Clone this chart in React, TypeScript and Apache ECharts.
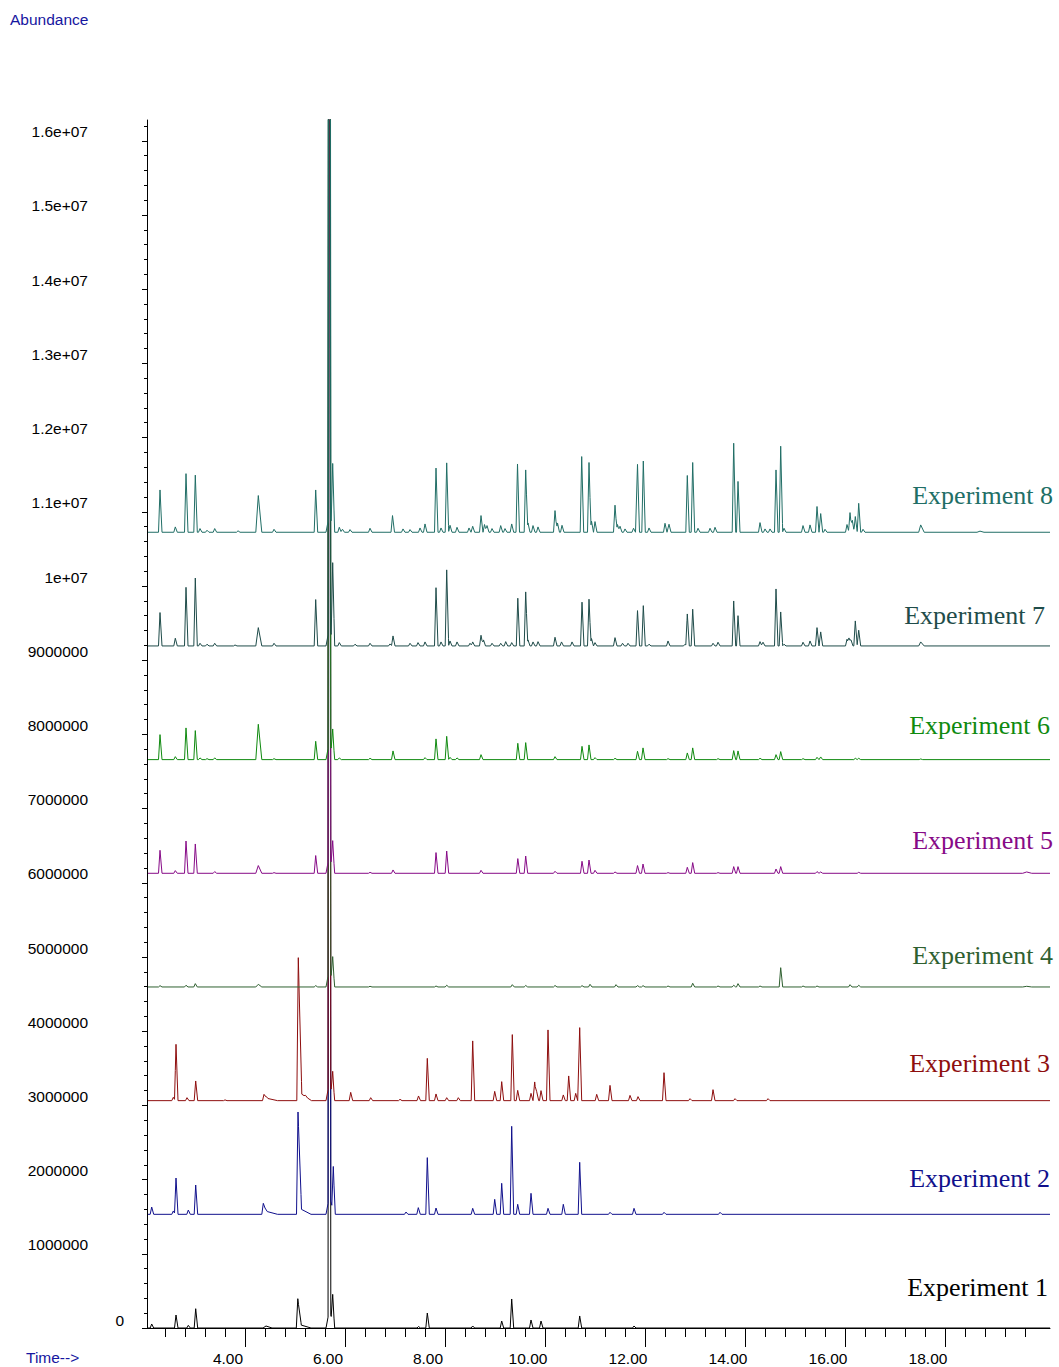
import React, { useEffect, useRef } from "react";
import * as echarts from "echarts";

// ---------- data ----------
const experimentNames = [
  "Experiment 1", "Experiment 2", "Experiment 3", "Experiment 4",
  "Experiment 5", "Experiment 6", "Experiment 7", "Experiment 8",
];
const experimentColors = [
  "#000000", "#10108c", "#8e0e0e", "#2f6030",
  "#870a87", "#0f8a0f", "#1f4c4a", "#216e66",
];
// vertical offset of each stacked trace (abundance units)
const baselineOffsets = [0, 1532000, 3064000, 4596000, 6128000, 7660000, 9192000, 10724000];

const xMajorTicks = [4, 6, 8, 10, 12, 14, 16, 18];
const xMinorTicks = [
  2.4, 2.8, 3.2, 3.6, 4.4, 4.8, 5.2, 5.6, 6.4, 6.8, 7.2, 7.6, 8.4, 8.8, 9.2, 9.6,
  10.4, 10.8, 11.2, 11.6, 12.4, 12.8, 13.2, 13.6, 14.4, 14.8, 15.2, 15.6,
  16.4, 16.8, 17.2, 17.6, 18.4, 18.8, 19.2, 19.6,
];
const yMajorTicks = [
  0, 1000000, 2000000, 3000000, 4000000, 5000000, 6000000, 7000000, 8000000,
  9000000, 10000000, 11000000, 12000000, 13000000, 14000000, 15000000, 16000000,
];

// peaks: [retention time (min), height above baseline, optional left/right half width (min)]
// the main peak at 5.686 min is off-scale in every run (apex + its broader foot)
const peaksExp1: number[][] = [
  [2.134, 54000], [2.62, 175000], [2.866, 36000], [3.014, 260000],
  [4.42, 27000, 0.06, 0.12], [5.056, 395000, 0.03, 0.07], [5.12, 40000, 0.05, 0.2],
  [5.686, 30000000, 0.025, 0.03], [5.69, 250000, 0.07, 0.09], [5.754, 381000],
  [7.47, 20000], [7.646, 202000], [8.554, 27000], [9.134, 94000], [9.334, 391000],
  [9.72, 108000], [9.92, 94000], [10.694, 162000], [11.78, 27000],
];
const peaksExp2: number[][] = [
  [2.134, 98000], [2.566, 45000], [2.62, 489000], [2.866, 58000], [3.014, 395000],
  [4.366, 148000, 0.03, 0.08], [4.45, 40000, 0.05, 0.2],
  [5.06, 1379000, 0.03, 0.07], [5.12, 70000, 0.05, 0.2],
  [5.686, 30000000, 0.025, 0.03], [5.69, 250000, 0.07, 0.09], [5.766, 606000],
  [7.22, 31000], [7.466, 90000], [7.646, 764000], [7.82, 85000], [8.554, 81000],
  [8.994, 202000], [9.134, 418000], [9.334, 1186000], [9.454, 135000], [9.72, 283000],
  [10.06, 81000], [10.366, 135000], [10.694, 701000], [11.3, 27000], [11.78, 81000],
  [12.38, 27000], [13.5, 27000],
];
const peaksExp3: number[][] = [
  [2.566, 45000], [2.62, 759000], [2.84, 40000], [3.014, 265000], [3.6, 10000],
  [4.38, 85000, 0.03, 0.08], [4.45, 30000, 0.05, 0.2],
  [5.066, 1927000, 0.03, 0.07], [5.13, 90000, 0.05, 0.2], [5.21, 18000],
  [5.686, 30000000, 0.025, 0.03], [5.69, 250000, 0.07, 0.09], [5.754, 323000],
  [6.114, 112000], [6.514, 40000],
  [7.1, 18000], [7.47, 63000], [7.646, 570000], [7.82, 90000], [8.034, 40000],
  [8.266, 40000], [8.554, 805000], [8.994, 125000], [9.134, 256000], [9.346, 890000],
  [9.454, 139000], [9.72, 98000], [9.794, 252000], [9.834, 121000], [9.92, 135000],
  [10.06, 953000], [10.366, 77000], [10.474, 333000], [10.614, 98000], [10.694, 984000],
  [11.034, 85000], [11.3, 206000], [11.7, 71000], [11.86, 54000], [12.38, 377000],
  [12.9, 27000], [13.36, 148000], [13.8, 27000], [14.46, 27000],
];
const peaksExp4: number[][] = [
  [2.3, 18000], [2.82, 23000], [3.006, 45000], [4.266, 36000, 0.05, 0.07], [5.414, 18000],
  [5.686, 30000000, 0.025, 0.03], [5.69, 250000, 0.07, 0.09], [5.754, 337000], [6.5, 9000],
  [7.82, 13000],
  [8.034, 23000], [9.346, 31000], [9.614, 20000], [10.2, 20000], [10.74, 18000],
  [10.9, 36000], [11.42, 31000], [11.85, 18000], [11.96, 18000], [12.46, 13000],
  [12.954, 50000], [13.46, 13000], [13.774, 23000], [13.86, 45000], [14.3, 13000],
  [14.714, 260000], [15.16, 13000], [15.44, 13000], [16.1, 31000], [16.274, 23000],
  [19.634, 9000, 0.08, 0.1],
];
const peaksExp5: number[][] = [
  [2.3, 310000], [2.606, 36000], [2.82, 435000], [3.006, 395000], [3.394, 23000],
  [4.266, 104000, 0.05, 0.07], [4.58, 9000], [5.414, 239000],
  [5.686, 30000000, 0.025, 0.03], [5.69, 250000, 0.07, 0.09], [5.754, 368000],
  [6.5, 13000], [6.96, 45000],
  [7.82, 279000], [8.034, 300000], [8.72, 40000], [9.456, 198000], [9.614, 233000],
  [10.2, 27000], [10.74, 162000], [10.88, 179000], [11.0, 40000], [11.4, 18000],
  [11.85, 104000], [11.96, 125000], [12.46, 9000], [12.846, 81000], [12.954, 144000],
  [13.46, 9000], [13.774, 90000], [13.86, 90000], [14.62, 58000], [14.714, 90000],
  [15.44, 23000], [15.514, 18000], [16.274, 13000], [19.634, 18000, 0.08, 0.1],
];
const peaksExp6: number[][] = [
  [2.3, 337000], [2.606, 40000], [2.82, 427000], [3.006, 391000], [3.1, 23000],
  [3.24, 13000], [3.394, 23000], [4.266, 476000, 0.05, 0.07], [4.58, 13000],
  [5.414, 247000], [5.686, 30000000, 0.025, 0.03], [5.69, 250000, 0.07, 0.09],
  [5.754, 341000], [5.886, 23000],
  [6.5, 18000], [6.96, 117000], [7.6, 27000], [7.82, 279000], [8.034, 314000],
  [8.1, 31000], [8.24, 23000], [8.72, 67000], [9.456, 220000], [9.614, 229000],
  [10.2, 40000], [10.74, 179000], [10.88, 198000], [11.0, 27000], [11.4, 18000],
  [11.85, 112000], [11.96, 158000], [12.46, 13000], [12.846, 90000], [12.954, 158000],
  [13.46, 13000], [13.774, 121000], [13.86, 117000], [14.3, 18000], [14.62, 67000],
  [14.714, 108000], [15.16, 13000], [15.44, 31000], [15.514, 36000], [16.206, 18000],
  [16.274, 18000], [17.514, 9000],
];
const peaksExp7: number[][] = [
  [2.3, 450000], [2.606, 104000], [2.82, 790000], [3.006, 915000], [3.1, 36000],
  [3.24, 23000], [3.394, 36000], [3.8, 13000], [4.266, 247000, 0.05, 0.07], [4.58, 36000],
  [5.414, 625000], [5.686, 30000000, 0.025, 0.03], [5.69, 250000, 0.07, 0.09],
  [5.754, 1050000], [5.886, 45000],
  [6.2, 23000], [6.5, 36000], [6.9, 27000], [6.96, 135000], [7.3, 36000], [7.46, 45000],
  [7.6, 54000], [7.82, 785000], [7.92, 54000], [8.034, 1025000], [8.1, 67000],
  [8.24, 54000], [8.5, 36000], [8.554, 54000], [8.72, 144000], [8.77, 81000],
  [8.94, 36000], [9.114, 36000], [9.214, 58000], [9.334, 45000], [9.456, 643000],
  [9.614, 728000], [9.66, 81000], [9.76, 54000], [9.86, 58000], [10.2, 117000],
  [10.33, 54000], [10.54, 54000], [10.74, 590000], [10.88, 630000], [10.93, 100000],
  [11.0, 45000], [11.4, 112000], [11.55, 36000], [11.66, 36000], [11.85, 476000],
  [11.966, 543000], [12.08, 23000], [12.46, 67000], [12.8, 23000], [12.846, 431000],
  [12.954, 495000], [13.36, 36000], [13.46, 50000], [13.774, 606000], [13.86, 408000],
  [14.3, 58000], [14.36, 50000], [14.62, 768000], [14.714, 458000], [14.78, 23000],
  [15.16, 50000], [15.3, 67000], [15.44, 247000], [15.514, 189000], [16.04, 90000],
  [16.08, 108000], [16.12, 81000], [16.206, 337000], [16.274, 212000], [17.514, 54000, 0.04, 0.07],
];
const peaksExp8: number[][] = [
  [2.3, 570000], [2.606, 72000], [2.82, 790000], [3.006, 770000], [3.1, 50000],
  [3.24, 27000], [3.394, 50000], [3.86, 20000], [4.266, 495000, 0.05, 0.07], [4.58, 40000],
  [5.414, 570000], [5.686, 30000000, 0.025, 0.03], [5.69, 250000, 0.07, 0.09],
  [5.754, 855000], [5.886, 67000],
  [5.95, 40000], [6.1, 36000], [6.5, 54000], [6.95, 225000], [7.16, 45000], [7.3, 36000],
  [7.5, 58000], [7.6, 112000], [7.82, 865000], [7.92, 58000], [8.034, 935000],
  [8.1, 94000], [8.24, 67000], [8.48, 58000], [8.554, 81000], [8.72, 225000],
  [8.79, 104000], [8.84, 90000], [8.94, 50000], [9.114, 90000], [9.2, 50000],
  [9.334, 112000], [9.45, 920000], [9.614, 840000], [9.66, 125000], [9.76, 90000],
  [9.86, 72000], [10.2, 292000], [10.25, 125000], [10.34, 94000], [10.734, 1020000],
  [10.88, 940000], [10.93, 150000], [11.0, 144000], [11.4, 365000], [11.45, 104000],
  [11.5, 81000], [11.6, 45000], [11.77, 54000], [11.85, 915000], [11.966, 960000],
  [12.08, 58000], [12.4, 121000], [12.48, 108000], [12.846, 765000], [12.954, 940000],
  [13.06, 54000], [13.3, 54000], [13.4, 67000], [13.774, 1200000], [13.86, 685000],
  [14.3, 130000], [14.4, 45000], [14.5, 45000], [14.62, 840000], [14.714, 1160000],
  [14.78, 54000], [15.16, 90000], [15.3, 99000], [15.44, 347000], [15.514, 252000],
  [15.6, 40000], [16.04, 104000], [16.1, 265000], [16.146, 162000], [16.206, 212000],
  [16.274, 390000], [16.36, 40000], [17.514, 99000, 0.04, 0.07], [18.7, 15000, 0.06, 0.08],
];
const experimentPeaks = [peaksExp1, peaksExp2, peaksExp3, peaksExp4, peaksExp5, peaksExp6, peaksExp7, peaksExp8];

const timeStart = 2.06;
const timeEnd = 20.1;

// Build the trace as the sum of the (triangular) read-off peaks on top of the baseline offset
function buildTrace(peaks: number[][], offset: number): number[][] {
  const times = new Set<number>([timeStart, timeEnd]);
  for (const p of peaks) {
    const t = p[0];
    const wl = p[2] ?? 0.03;
    const wr = p[3] ?? 0.04;
    times.add(+(t - wl).toFixed(4));
    times.add(t);
    times.add(+(t + wr).toFixed(4));
  }
  const sorted = Array.from(times).filter((t) => t >= timeStart && t <= timeEnd).sort((a, b) => a - b);
  return sorted.map((t) => {
    let v = offset;
    for (const p of peaks) {
      const pt = p[0];
      const h = p[1];
      const wl = p[2] ?? 0.03;
      const wr = p[3] ?? 0.04;
      if (t <= pt - wl || t >= pt + wr) continue;
      v += t <= pt ? (h * (t - (pt - wl))) / wl : (h * (pt + wr - t)) / wr;
    }
    return [t, v];
  });
}

function formatY(v: number): string {
  if (v >= 10000000) {
    const m = Number((v / 10000000).toFixed(1));
    return m + "e+07";
  }
  return String(v);
}

const SANS = "'Liberation Sans', Arial, sans-serif";
const SERIF = "'Liberation Serif', 'Times New Roman', serif";
const LABEL_BLUE = "#1616a0";

// label anchor positions [right x, center y]
const experimentLabelPos = [
  [1048, 1287], [1050, 1178], [1050, 1063], [1053, 955],
  [1053, 840], [1050, 725], [1045, 615], [1053, 495],
];

const X_MIN = 2.04;
const Y_MAX = 16280000;
// the instrument prints tick labels a little before their tick (x) and above it (y)
const X_LABEL_SHIFT = 0.34; // minutes (≈17 px)
const Y_LABEL_SHIFT = 121000; // abundance (≈9 px)

export default function App() {
  const ref = useRef<HTMLDivElement>(null);
  useEffect(() => {
    if (!ref.current) return;
    const chart = echarts.init(ref.current, null, { renderer: "svg" });
    const yMinor: number[] = [];
    for (let k = 0; k < 16.2; k += 1) {
      for (let j = 1; j < 5; j++) {
        const v = Math.round((k + j * 0.2) * 1000000);
        if (v <= Y_MAX) yMinor.push(v);
      }
    }
    const option: any = {
      animation: false,
      backgroundColor: "#ffffff",
      grid: { left: 147, right: 9, top: 120, bottom: 39, containLabel: false },
      xAxis: [
        {
          type: "value", min: X_MIN, max: timeEnd,
          axisLine: { show: true, lineStyle: { color: "#000", width: 1 } },
          axisTick: { show: true, customValues: xMajorTicks, length: 19, lineStyle: { color: "#000" } },
          axisLabel: { show: false },
          splitLine: { show: false },
        },
        {
          type: "value", min: X_MIN, max: timeEnd, position: "bottom",
          axisLine: { show: false },
          axisTick: { show: true, customValues: xMinorTicks, length: 9, lineStyle: { color: "#000" } },
          axisLabel: { show: false },
          splitLine: { show: false },
        },
        {
          type: "value", min: X_MIN + X_LABEL_SHIFT, max: timeEnd + X_LABEL_SHIFT, position: "bottom",
          axisLine: { show: false },
          axisTick: { show: false },
          axisLabel: {
            show: true, customValues: xMajorTicks, formatter: (v: number) => v.toFixed(2),
            fontFamily: SANS, fontSize: 15.5, color: "#000", margin: 22, align: "center",
          },
          splitLine: { show: false },
        },
      ],
      yAxis: [
        {
          type: "value", min: 0, max: Y_MAX,
          axisLine: { show: true, lineStyle: { color: "#000", width: 1 } },
          axisTick: { show: true, customValues: yMajorTicks, length: 5, lineStyle: { color: "#000" } },
          axisLabel: { show: false },
          splitLine: { show: false },
        },
        {
          type: "value", min: 0, max: Y_MAX, position: "left",
          axisLine: { show: false },
          axisTick: { show: true, customValues: yMinor, length: 3, lineStyle: { color: "#000" } },
          axisLabel: { show: false },
          splitLine: { show: false },
        },
        {
          type: "value", min: -Y_LABEL_SHIFT, max: Y_MAX - Y_LABEL_SHIFT, position: "left",
          axisLine: { show: false },
          axisTick: { show: false },
          axisLabel: {
            show: true, customValues: yMajorTicks.filter((v) => v > 0), formatter: formatY,
            fontFamily: SANS, fontSize: 15.5, color: "#000", margin: 59,
          },
          splitLine: { show: false },
        },
      ],
      series: experimentPeaks.map((peaks, i) => ({
        name: experimentNames[i],
        type: "line",
        xAxisIndex: 0,
        yAxisIndex: 0,
        showSymbol: false,
        symbol: "none",
        silent: true,
        clip: true,
        z: 2 + i,
        lineStyle: { color: experimentColors[i], width: 1 },
        data: buildTrace(peaks, baselineOffsets[i]),
      })),
      graphic: [
        {
          type: "text", left: 10, top: 11,
          style: { text: "Abundance", font: `15.5px ${SANS}`, fill: LABEL_BLUE },
        },
        {
          type: "text", left: 26, top: 1349,
          style: { text: "Time-->", font: `15.5px ${SANS}`, fill: LABEL_BLUE },
        },
        {
          type: "text", x: 124, y: 1320,
          style: { text: "0", font: `15.5px ${SANS}`, fill: "#000", textAlign: "right", textVerticalAlign: "middle" },
        },
        ...experimentNames.map((name, i) => ({
          type: "text", x: experimentLabelPos[i][0], y: experimentLabelPos[i][1], z: 20,
          style: {
            text: name, font: `26px ${SERIF}`, fill: experimentColors[i],
            textAlign: "right", textVerticalAlign: "middle",
          },
        })),
      ],
    };
    chart.setOption(option);
    return () => chart.dispose();
  }, []);
  return (
    <div
      ref={ref}
      style={{ position: "absolute", left: 0, top: 0, width: 1059, height: 1367, background: "#fff" }}
    />
  );
}
